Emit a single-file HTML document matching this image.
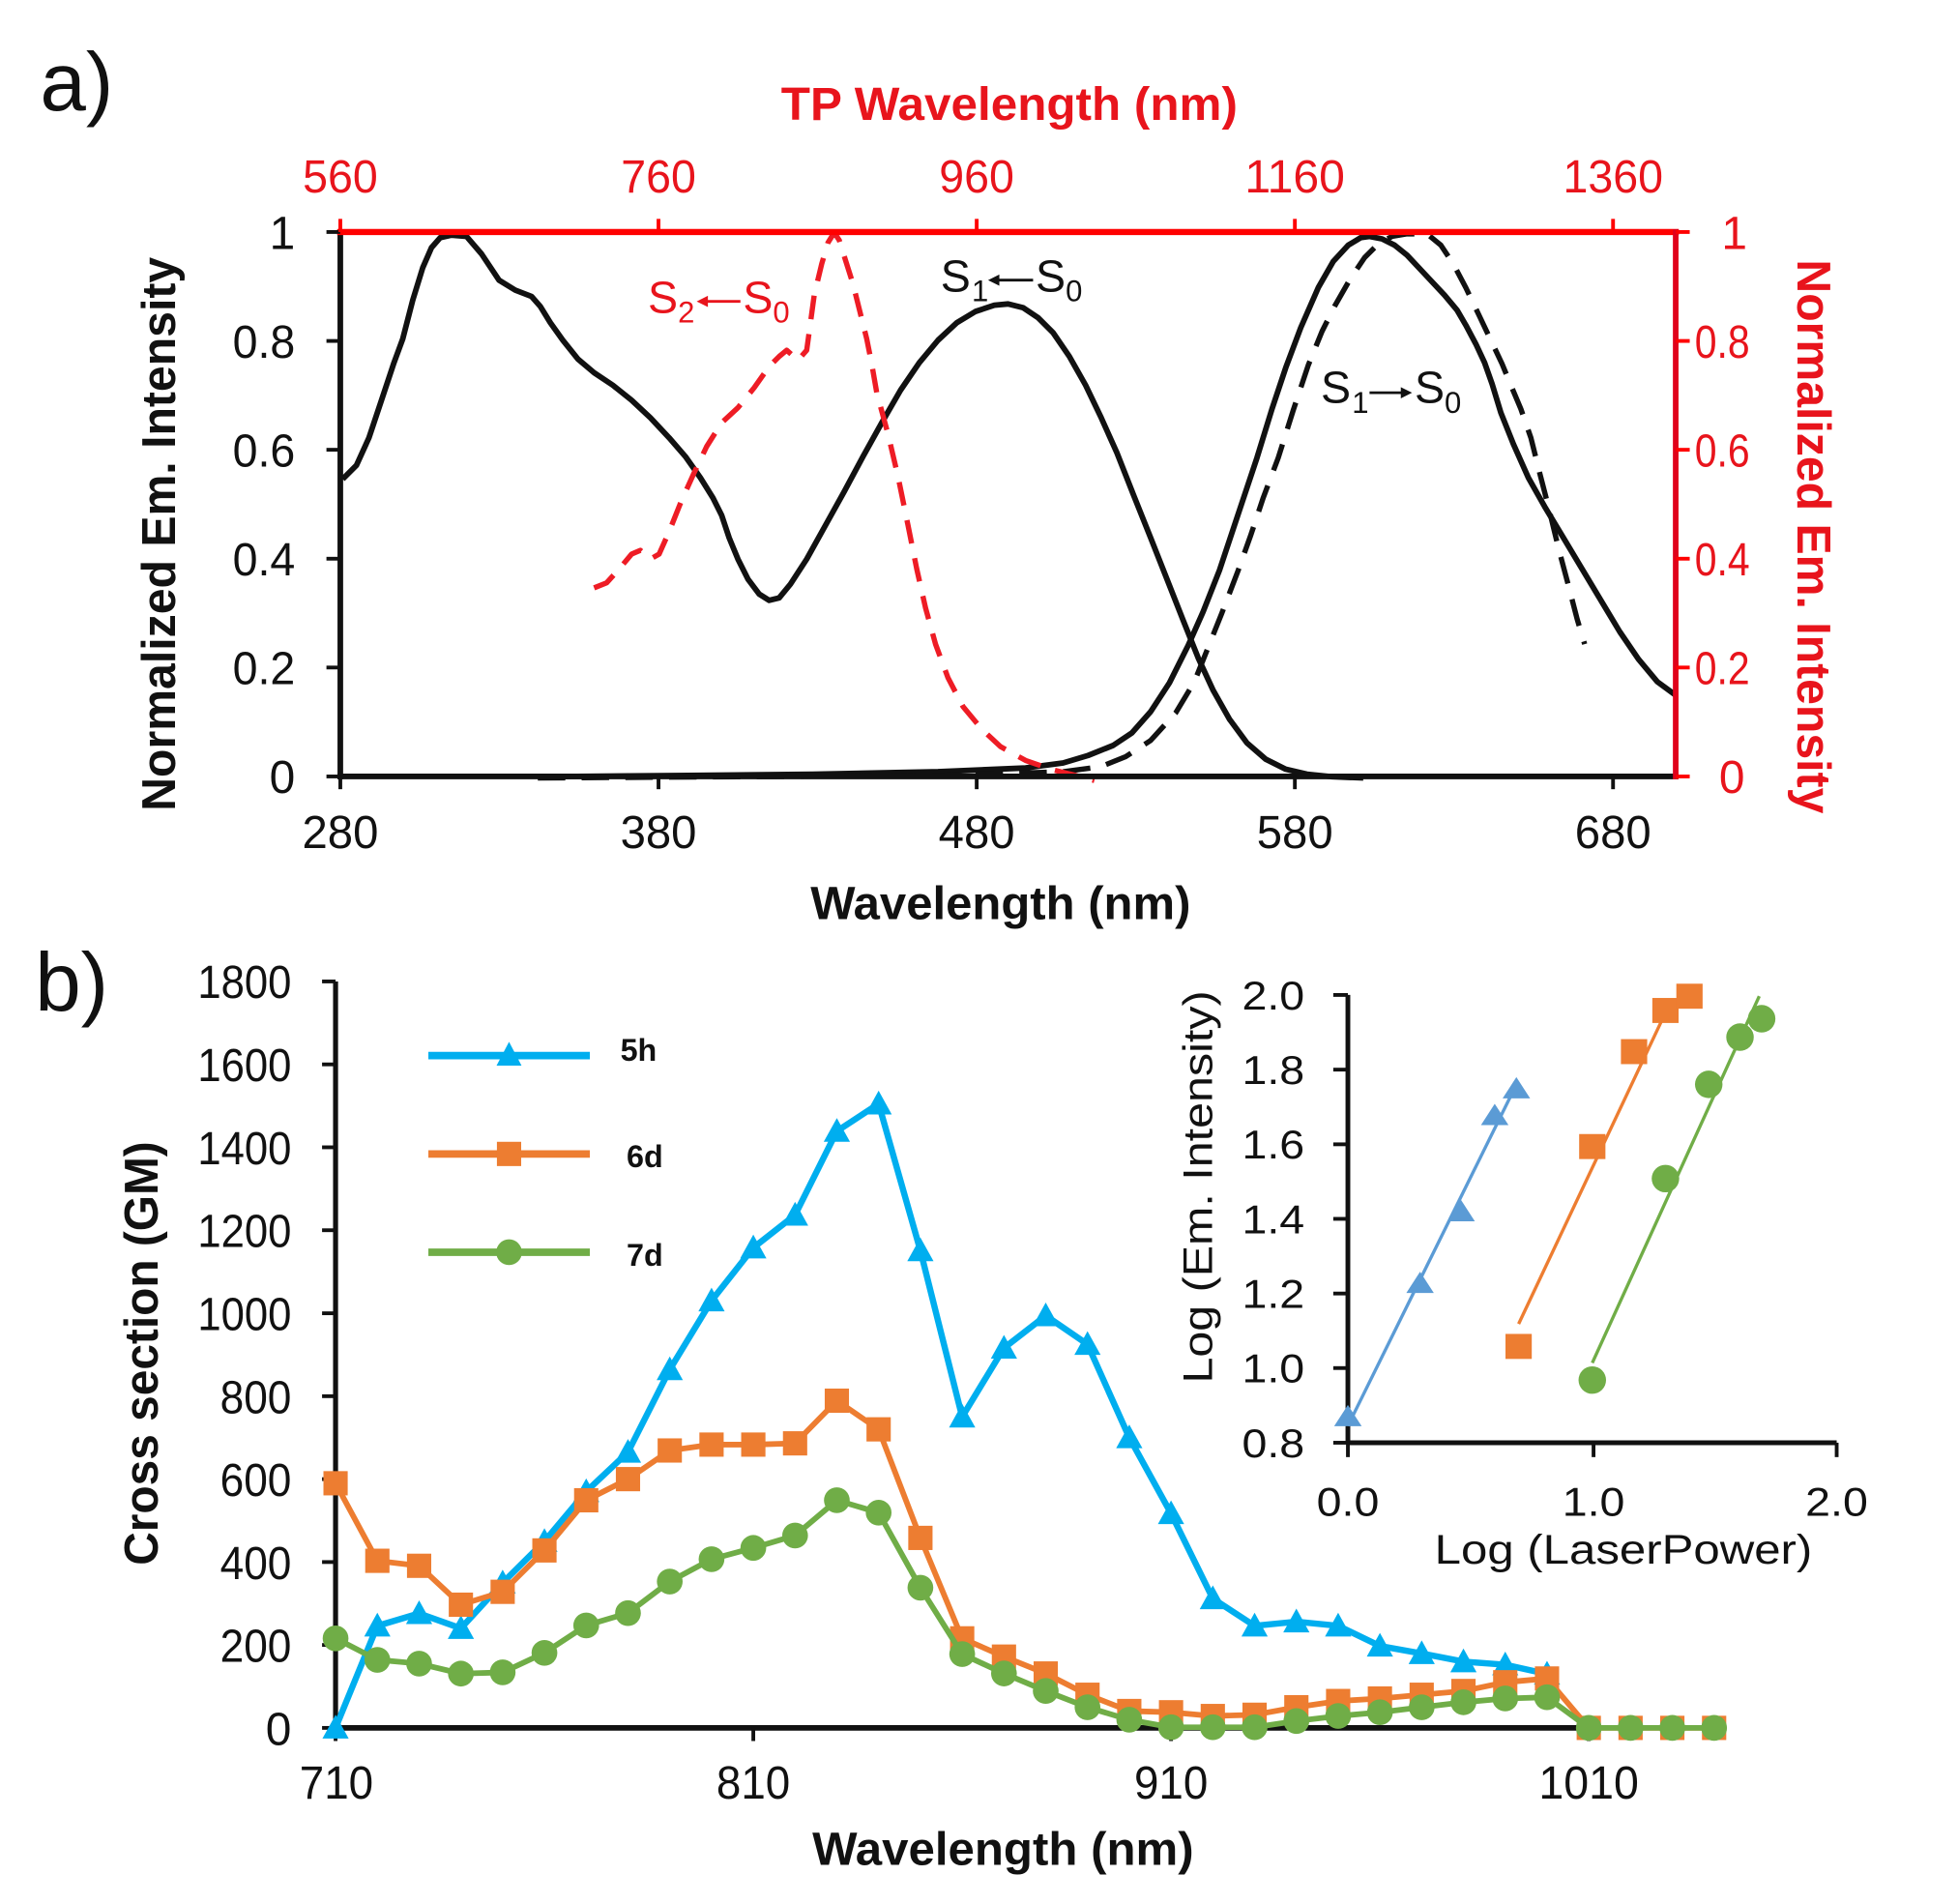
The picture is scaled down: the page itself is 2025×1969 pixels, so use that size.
<!DOCTYPE html>
<html>
<head>
<meta charset="utf-8">
<style>
html,body{margin:0;padding:0;background:#fff;}
svg{display:block;}
text{font-family:"Liberation Sans",Arial,sans-serif;}
</style>
</head>
<body>
<svg width="2025" height="1969" viewBox="0 0 1565.5 1522.3" preserveAspectRatio="none" xmlns="http://www.w3.org/2000/svg">
<defs>
  <marker id="mtri" markerUnits="userSpaceOnUse" markerWidth="24" markerHeight="24" refX="12" refY="12" overflow="visible"><path d="M12,1.5 L22.5,20.5 L1.5,20.5 Z" fill="#00AEEF"/></marker>
  <marker id="msq" markerUnits="userSpaceOnUse" markerWidth="24" markerHeight="24" refX="12" refY="12" overflow="visible"><rect x="2.3" y="2.3" width="19.4" height="19.4" fill="#ED7D31"/></marker>
  <marker id="mci" markerUnits="userSpaceOnUse" markerWidth="24" markerHeight="24" refX="12" refY="12" overflow="visible"><circle cx="12" cy="12" r="10.3" fill="#70AD47"/></marker>
  <marker id="itri" markerUnits="userSpaceOnUse" markerWidth="24" markerHeight="24" refX="12" refY="12" overflow="visible"><path d="M12,3 L23,20 L1,20 Z" fill="#5B9BD5"/></marker>
  <marker id="isq" markerUnits="userSpaceOnUse" markerWidth="24" markerHeight="24" refX="12" refY="12" overflow="visible"><rect x="1.5" y="2" width="21" height="20" fill="#ED7D31"/></marker>
  <marker id="ici" markerUnits="userSpaceOnUse" markerWidth="24" markerHeight="24" refX="12" refY="12" overflow="visible"><circle cx="12" cy="12" r="11" fill="#70AD47"/></marker>
</defs>
<rect x="0" y="0" width="1565.5" height="1522.3" fill="#fff"/>

<!-- ================= PANEL A ================= -->
<text x="32" y="88" font-size="66" fill="#111">a)</text>
<text x="807" y="96" font-size="37" font-weight="bold" fill="#e8141c" text-anchor="middle" textLength="365" lengthAdjust="spacingAndGlyphs">TP Wavelength (nm)</text>

<!-- top tick labels -->
<g font-size="37" fill="#e8141c" text-anchor="middle">
  <text x="272.1" y="154" textLength="60" lengthAdjust="spacingAndGlyphs">560</text>
  <text x="526.5" y="154" textLength="60" lengthAdjust="spacingAndGlyphs">760</text>
  <text x="780.9" y="154" textLength="60" lengthAdjust="spacingAndGlyphs">960</text>
  <text x="1035.3" y="154" textLength="80" lengthAdjust="spacingAndGlyphs">1160</text>
  <text x="1289.7" y="154" textLength="80" lengthAdjust="spacingAndGlyphs">1360</text>
</g>

<!-- curves -->
<g fill="none" stroke-linejoin="round" stroke-linecap="butt">
  <polyline stroke="#111" stroke-width="4.5" points="274,383 285,372 295,350 305,320 315,290 322,271 330,240 338,214 345,198 352,190 361,188 373,189 385,203 399,224 412,232 425,237 432,245 440,258 450,272 462,287 475,298 490,308 505,320 520,334 535,350 548,365 560,382 570,398 577,412 583,430 590,447 598,463 607,475 615,480 623,478 632,467 645,447 660,420 675,393 690,365 705,338 720,312 735,290 750,272 765,258 780,249 795,244 806,243 818,246 830,254 842,266 855,285 868,308 880,333 893,362 906,395 920,430 933,463 946,496 958,526 970,552 983,575 997,594 1012,607 1028,615 1045,619 1065,621 1090,622"/>
  <polyline stroke="#111" stroke-width="4.5" points="430,621 550,620 650,619 750,617 820,614 850,610 870,604 890,596 905,586 920,569 935,546 950,516 962,489 975,456 990,411 1005,366 1017,327 1028,294 1040,262 1054,230 1066,209 1078,196 1088,190 1095,189 1105,191 1115,196 1125,204 1140,220 1155,236 1165,248 1172,260 1180,275 1187,290 1193,307 1200,330 1210,355 1222,382 1235,405 1250,430 1265,455 1280,480 1295,505 1310,527 1325,545 1340,556"/>
  <polyline stroke="#111" stroke-width="4.2" stroke-dasharray="22 13" points="430,622 600,621 750,620 850,617 880,613 900,605 920,592 940,570 955,545 965,520 977,490 990,456 1000,428 1010,398 1022,366 1034,328 1046,292 1057,265 1067,245 1079,224 1091,206 1102,195 1113,189 1125,187 1141,187 1152,196 1162,211 1172,230 1183,253 1192,272 1201,291 1208,308 1216,327 1224,350 1231,378 1238,405 1246,438 1254,468 1261,495 1267,515"/>
  <polyline stroke="#ee1c25" stroke-width="4.2" stroke-dasharray="19 12" points="475,470 485,466 495,455 505,443 512,440 520,447 527,443 535,425 545,400 555,378 565,357 577,338 590,326 603,310 615,293 623,285 629,280 638,288 645,280 648,258 651,236 657,211 662,194 667,186 671,192 676,208 682,227 687,247 693,271 697,291 701,314 710,347 718,381 726,420 733,455 740,486 748,515 758,542 770,565 785,583 800,597 820,608 840,615 860,620 875,624"/>
</g>

<!-- axes a -->
<g stroke-linecap="square">
  <line x1="272.1" y1="187" x2="272.1" y2="620.8" stroke="#111" stroke-width="4.5"/>
  <line x1="272.1" y1="620.8" x2="1339.8" y2="620.8" stroke="#111" stroke-width="4.5"/>
  <line x1="272.1" y1="185.5" x2="1339.8" y2="185.5" stroke="#ff0000" stroke-width="5"/>
  <line x1="1339.8" y1="185.5" x2="1339.8" y2="620.8" stroke="#e0001a" stroke-width="4.5"/>
</g>
<g stroke="#111" stroke-width="3">
  <line x1="261" y1="185.5" x2="272" y2="185.5"/>
  <line x1="261" y1="272.6" x2="272" y2="272.6"/>
  <line x1="261" y1="359.6" x2="272" y2="359.6"/>
  <line x1="261" y1="446.7" x2="272" y2="446.7"/>
  <line x1="261" y1="533.7" x2="272" y2="533.7"/>
  <line x1="261" y1="620.8" x2="272" y2="620.8"/>
  <line x1="272.1" y1="620.8" x2="272.1" y2="631"/>
  <line x1="526.5" y1="620.8" x2="526.5" y2="631"/>
  <line x1="780.9" y1="620.8" x2="780.9" y2="631"/>
  <line x1="1035.3" y1="620.8" x2="1035.3" y2="631"/>
  <line x1="1289.7" y1="620.8" x2="1289.7" y2="631"/>
</g>
<g stroke="#ff0000" stroke-width="3">
  <line x1="272.1" y1="175" x2="272.1" y2="185.5"/>
  <line x1="526.5" y1="175" x2="526.5" y2="185.5"/>
  <line x1="780.9" y1="175" x2="780.9" y2="185.5"/>
  <line x1="1035.3" y1="175" x2="1035.3" y2="185.5"/>
  <line x1="1289.7" y1="175" x2="1289.7" y2="185.5"/>
  <line x1="1340" y1="185.5" x2="1351" y2="185.5"/>
  <line x1="1340" y1="272.6" x2="1351" y2="272.6"/>
  <line x1="1340" y1="359.6" x2="1351" y2="359.6"/>
  <line x1="1340" y1="446.7" x2="1351" y2="446.7"/>
  <line x1="1340" y1="533.7" x2="1351" y2="533.7"/>
  <line x1="1340" y1="620.8" x2="1351" y2="620.8"/>
</g>

<!-- left tick labels a -->
<g font-size="37" fill="#111" text-anchor="end">
  <text x="236" y="199">1</text>
  <text x="236" y="286" textLength="50" lengthAdjust="spacingAndGlyphs">0.8</text>
  <text x="236" y="373" textLength="50" lengthAdjust="spacingAndGlyphs">0.6</text>
  <text x="236" y="460" textLength="50" lengthAdjust="spacingAndGlyphs">0.4</text>
  <text x="236" y="547" textLength="50" lengthAdjust="spacingAndGlyphs">0.2</text>
  <text x="236" y="634">0</text>
</g>
<!-- right tick labels a -->
<g font-size="37" fill="#e8141c" text-anchor="end">
  <text x="1397" y="199">1</text>
  <text x="1399" y="286" textLength="44" lengthAdjust="spacingAndGlyphs">0.8</text>
  <text x="1399" y="373" textLength="44" lengthAdjust="spacingAndGlyphs">0.6</text>
  <text x="1399" y="460" textLength="44" lengthAdjust="spacingAndGlyphs">0.4</text>
  <text x="1399" y="547" textLength="44" lengthAdjust="spacingAndGlyphs">0.2</text>
  <text x="1395" y="634">0</text>
</g>
<!-- bottom tick labels a -->
<g font-size="37" fill="#111" text-anchor="middle">
  <text x="272.1" y="678" textLength="61" lengthAdjust="spacingAndGlyphs">280</text>
  <text x="526.5" y="678" textLength="61" lengthAdjust="spacingAndGlyphs">380</text>
  <text x="780.9" y="678" textLength="61" lengthAdjust="spacingAndGlyphs">480</text>
  <text x="1035.3" y="678" textLength="61" lengthAdjust="spacingAndGlyphs">580</text>
  <text x="1289.7" y="678" textLength="61" lengthAdjust="spacingAndGlyphs">680</text>
</g>
<text x="800" y="735" font-size="37" font-weight="bold" fill="#111" text-anchor="middle" textLength="304" lengthAdjust="spacingAndGlyphs">Wavelength (nm)</text>
<text transform="translate(140,427) rotate(-90)" font-size="38" font-weight="bold" fill="#111" text-anchor="middle" textLength="443" lengthAdjust="spacingAndGlyphs">Normalized Em. Intensity</text>
<text transform="translate(1437,429) rotate(90)" font-size="38" font-weight="bold" fill="#e8141c" text-anchor="middle" textLength="443" lengthAdjust="spacingAndGlyphs">Normalized Em. Intensity</text>

<!-- state labels -->
<g fill="#111">
  <text x="752" y="233" font-size="36">S</text>
  <text x="777" y="241" font-size="24">1</text>
  <line x1="793" y1="224" x2="826" y2="224" stroke="#111" stroke-width="2.2"/>
  <path d="M790,224 L799,219.5 L799,228.5 Z"/>
  <text x="828" y="233" font-size="36">S</text>
  <text x="852" y="241" font-size="24">0</text>
</g>
<g fill="#e8141c">
  <text x="518" y="250" font-size="36">S</text>
  <text x="542" y="258" font-size="24">2</text>
  <line x1="560" y1="241" x2="592" y2="241" stroke="#e8141c" stroke-width="2.2"/>
  <path d="M557,241 L566,236.5 L566,245.5 Z"/>
  <text x="594" y="250" font-size="36">S</text>
  <text x="618" y="258" font-size="24">0</text>
</g>
<g fill="#111">
  <text x="1056" y="322" font-size="36">S</text>
  <text x="1081" y="330" font-size="24">1</text>
  <line x1="1095" y1="314" x2="1125" y2="314" stroke="#111" stroke-width="2.2"/>
  <path d="M1129,314 L1120,309.5 L1120,318.5 Z"/>
  <text x="1131" y="322" font-size="36">S</text>
  <text x="1155" y="330" font-size="24">0</text>
</g>

<!-- ================= PANEL B ================= -->
<text x="28" y="808" font-size="66" fill="#111">b)</text>

<!-- axes b -->
<g stroke="#111">
  <line x1="268.3" y1="784.7" x2="268.3" y2="1381.5" stroke-width="4"/>
  <line x1="268.3" y1="1381.5" x2="1270.3" y2="1381.5" stroke-width="4.5"/>
  <g stroke-width="3">
    <line x1="257.5" y1="784.7" x2="268.3" y2="784.7"/>
    <line x1="257.5" y1="851.0" x2="268.3" y2="851.0"/>
    <line x1="257.5" y1="917.3" x2="268.3" y2="917.3"/>
    <line x1="257.5" y1="983.6" x2="268.3" y2="983.6"/>
    <line x1="257.5" y1="1050.0" x2="268.3" y2="1050.0"/>
    <line x1="257.5" y1="1116.3" x2="268.3" y2="1116.3"/>
    <line x1="257.5" y1="1182.6" x2="268.3" y2="1182.6"/>
    <line x1="257.5" y1="1248.9" x2="268.3" y2="1248.9"/>
    <line x1="257.5" y1="1315.2" x2="268.3" y2="1315.2"/>
    <line x1="257.5" y1="1381.5" x2="268.3" y2="1381.5"/>
    <line x1="268.3" y1="1381.5" x2="268.3" y2="1392"/>
    <line x1="602.3" y1="1381.5" x2="602.3" y2="1392"/>
    <line x1="936.3" y1="1381.5" x2="936.3" y2="1392"/>
    <line x1="1270.3" y1="1381.5" x2="1270.3" y2="1392"/>
  </g>
</g>
<g font-size="37" fill="#111" text-anchor="end">
  <text x="233" y="798" textLength="75" lengthAdjust="spacingAndGlyphs">1800</text>
  <text x="233" y="864.5" textLength="75" lengthAdjust="spacingAndGlyphs">1600</text>
  <text x="233" y="930.8" textLength="75" lengthAdjust="spacingAndGlyphs">1400</text>
  <text x="233" y="997.1" textLength="75" lengthAdjust="spacingAndGlyphs">1200</text>
  <text x="233" y="1063.5" textLength="75" lengthAdjust="spacingAndGlyphs">1000</text>
  <text x="233" y="1129.8" textLength="57" lengthAdjust="spacingAndGlyphs">800</text>
  <text x="233" y="1196.1" textLength="57" lengthAdjust="spacingAndGlyphs">600</text>
  <text x="233" y="1262.4" textLength="57" lengthAdjust="spacingAndGlyphs">400</text>
  <text x="233" y="1328.7" textLength="57" lengthAdjust="spacingAndGlyphs">200</text>
  <text x="233" y="1395">0</text>
</g>
<g font-size="37" fill="#111" text-anchor="middle">
  <text x="269" y="1438" textLength="59" lengthAdjust="spacingAndGlyphs">710</text>
  <text x="602.3" y="1438" textLength="59" lengthAdjust="spacingAndGlyphs">810</text>
  <text x="936.3" y="1438" textLength="59" lengthAdjust="spacingAndGlyphs">910</text>
  <text x="1270.3" y="1438" textLength="80" lengthAdjust="spacingAndGlyphs">1010</text>
</g>
<text x="802" y="1491" font-size="37" font-weight="bold" fill="#111" text-anchor="middle" textLength="305" lengthAdjust="spacingAndGlyphs">Wavelength (nm)</text>
<text transform="translate(126,1082) rotate(-90)" font-size="38" font-weight="bold" fill="#111" text-anchor="middle" textLength="339" lengthAdjust="spacingAndGlyphs">Cross section (GM)</text>

<!-- series b -->
<g fill="none" stroke-linejoin="round">
  <polyline stroke="#00AEEF" stroke-width="5" marker-start="url(#mtri)" marker-mid="url(#mtri)" marker-end="url(#mtri)" points="268.3,1381.5 301.7,1299.9 335.1,1290.0 368.5,1301.9 401.9,1265.5 435.3,1232.3 468.7,1192.5 502.1,1161.0 535.5,1095.0 568.9,1040.0 602.3,997.6 635.7,971.4 669.1,904.4 702.5,882.5 735.9,999.9 769.3,1132.8 802.7,1077.8 836.1,1051.9 869.5,1074.8 902.9,1149.4 936.3,1210.1 969.7,1278.1 1003.1,1299.9 1036.5,1296.6 1069.9,1299.9 1103.3,1316 1136.7,1322 1170.1,1328.5 1203.5,1331 1236.9,1338.4"/>
  <polyline stroke="#ED7D31" stroke-width="4.5" marker-start="url(#msq)" marker-mid="url(#msq)" marker-end="url(#msq)" points="268.3,1185.9 301.7,1247.9 335.1,1251.9 368.5,1283.0 401.9,1272.7 435.3,1239.6 468.7,1199.5 502.1,1182.6 535.5,1159.7 568.9,1155.0 602.3,1155.0 635.7,1154.0 669.1,1119.9 702.5,1142.8 735.9,1229.6 769.3,1309.9 802.7,1324.5 836.1,1338 869.5,1355 902.9,1368 936.3,1369 969.7,1372 1003.1,1371 1036.5,1365 1069.9,1360 1103.3,1358 1136.7,1355 1170.1,1352 1203.5,1345 1236.9,1342 1270.3,1381.5 1303.7,1381.5 1337.1,1381.5 1370.5,1381.5"/>
  <polyline stroke="#70AD47" stroke-width="4.5" marker-start="url(#mci)" marker-mid="url(#mci)" marker-end="url(#mci)" points="268.3,1309.9 301.7,1327.1 335.1,1330.1 368.5,1338.1 401.9,1337.1 435.3,1321.5 468.7,1299.6 502.1,1289.7 535.5,1264.5 568.9,1246.6 602.3,1237.6 635.7,1227.7 669.1,1199.5 702.5,1209.4 735.9,1269.4 769.3,1322.5 802.7,1338 836.1,1352 869.5,1365 902.9,1375 936.3,1381 969.7,1381 1003.1,1381 1036.5,1376 1069.9,1372 1103.3,1369 1136.7,1365 1170.1,1361 1203.5,1358 1236.9,1357 1270.3,1381.5 1303.7,1381.5 1337.1,1381.5 1370.5,1381.5"/>
</g>

<!-- legend -->
<g>
  <line x1="342.5" y1="844" x2="471.6" y2="844" stroke="#00AEEF" stroke-width="6"/>
  <path d="M407,833 L417,852 L397,852 Z" fill="#00AEEF"/>
  <text x="496" y="848" font-size="25" font-weight="bold" fill="#111">5h</text>
  <line x1="342.5" y1="922.6" x2="471.6" y2="922.6" stroke="#ED7D31" stroke-width="6"/>
  <rect x="397.3" y="912.9" width="19.4" height="19.4" fill="#ED7D31"/>
  <text x="501" y="933" font-size="25" font-weight="bold" fill="#111">6d</text>
  <line x1="342.5" y1="1001.2" x2="471.6" y2="1001.2" stroke="#70AD47" stroke-width="6"/>
  <circle cx="407" cy="1001.2" r="10.3" fill="#70AD47"/>
  <text x="501" y="1012" font-size="25" font-weight="bold" fill="#111">7d</text>
</g>

<!-- ================= INSET ================= -->
<g stroke="#111">
  <line x1="1077.7" y1="795.5" x2="1077.7" y2="1153.5" stroke-width="3.8"/>
  <line x1="1077.7" y1="1153.5" x2="1468.5" y2="1153.5" stroke-width="3.8"/>
  <g stroke-width="3">
    <line x1="1066" y1="795.5" x2="1077.7" y2="795.5"/>
    <line x1="1066" y1="855.2" x2="1077.7" y2="855.2"/>
    <line x1="1066" y1="914.9" x2="1077.7" y2="914.9"/>
    <line x1="1066" y1="974.5" x2="1077.7" y2="974.5"/>
    <line x1="1066" y1="1034.2" x2="1077.7" y2="1034.2"/>
    <line x1="1066" y1="1093.8" x2="1077.7" y2="1093.8"/>
    <line x1="1066" y1="1153.5" x2="1077.7" y2="1153.5"/>
    <line x1="1077.7" y1="1153.5" x2="1077.7" y2="1165"/>
    <line x1="1274.1" y1="1153.5" x2="1274.1" y2="1165"/>
    <line x1="1468.5" y1="1153.5" x2="1468.5" y2="1165"/>
  </g>
</g>
<g font-size="32" fill="#111" text-anchor="end">
  <text x="1043" y="807" textLength="50" lengthAdjust="spacingAndGlyphs">2.0</text>
  <text x="1043" y="866.7" textLength="50" lengthAdjust="spacingAndGlyphs">1.8</text>
  <text x="1043" y="926.4" textLength="50" lengthAdjust="spacingAndGlyphs">1.6</text>
  <text x="1043" y="986" textLength="50" lengthAdjust="spacingAndGlyphs">1.4</text>
  <text x="1043" y="1045.7" textLength="50" lengthAdjust="spacingAndGlyphs">1.2</text>
  <text x="1043" y="1105.3" textLength="50" lengthAdjust="spacingAndGlyphs">1.0</text>
  <text x="1043" y="1165" textLength="50" lengthAdjust="spacingAndGlyphs">0.8</text>
</g>
<g font-size="32" fill="#111" text-anchor="middle">
  <text x="1077.7" y="1212" textLength="50" lengthAdjust="spacingAndGlyphs">0.0</text>
  <text x="1274.1" y="1212" textLength="50" lengthAdjust="spacingAndGlyphs">1.0</text>
  <text x="1468.5" y="1212" textLength="50" lengthAdjust="spacingAndGlyphs">2.0</text>
</g>
<text x="1298" y="1250" font-size="33" fill="#111" text-anchor="middle" textLength="302" lengthAdjust="spacingAndGlyphs">Log (LaserPower)</text>
<text transform="translate(969,949) rotate(-90)" font-size="33" fill="#111" text-anchor="middle" textLength="314" lengthAdjust="spacingAndGlyphs">Log (Em. Intensity)</text>

<!-- inset fit lines -->
<g stroke-width="2.6" fill="none">
  <line x1="1077.7" y1="1140" x2="1210" y2="872" stroke="#5B9BD5"/>
  <line x1="1214.2" y1="1058.5" x2="1335.5" y2="801.4" stroke="#ED7D31"/>
  <line x1="1273.1" y1="1089.7" x2="1406.6" y2="796.5" stroke="#70AD47"/>
</g>
<!-- inset markers -->
<polyline fill="none" stroke="none" marker-start="url(#itri)" marker-mid="url(#itri)" marker-end="url(#itri)" points="1077.7,1132.3 1135.4,1025.8 1168.2,968.5 1195.1,891.5 1212.4,870.2"/>
<polyline fill="none" stroke="none" marker-start="url(#isq)" marker-mid="url(#isq)" marker-end="url(#isq)" points="1214.2,1076.5 1273.1,916.7 1306.5,840.8 1331.6,807.9 1350.8,796.5"/>
<polyline fill="none" stroke="none" marker-start="url(#ici)" marker-mid="url(#ici)" marker-end="url(#ici)" points="1273.1,1103.4 1331.6,942.3 1366.2,867 1391.2,829.2 1408.5,814.5"/>
</svg>
</body>
</html>
